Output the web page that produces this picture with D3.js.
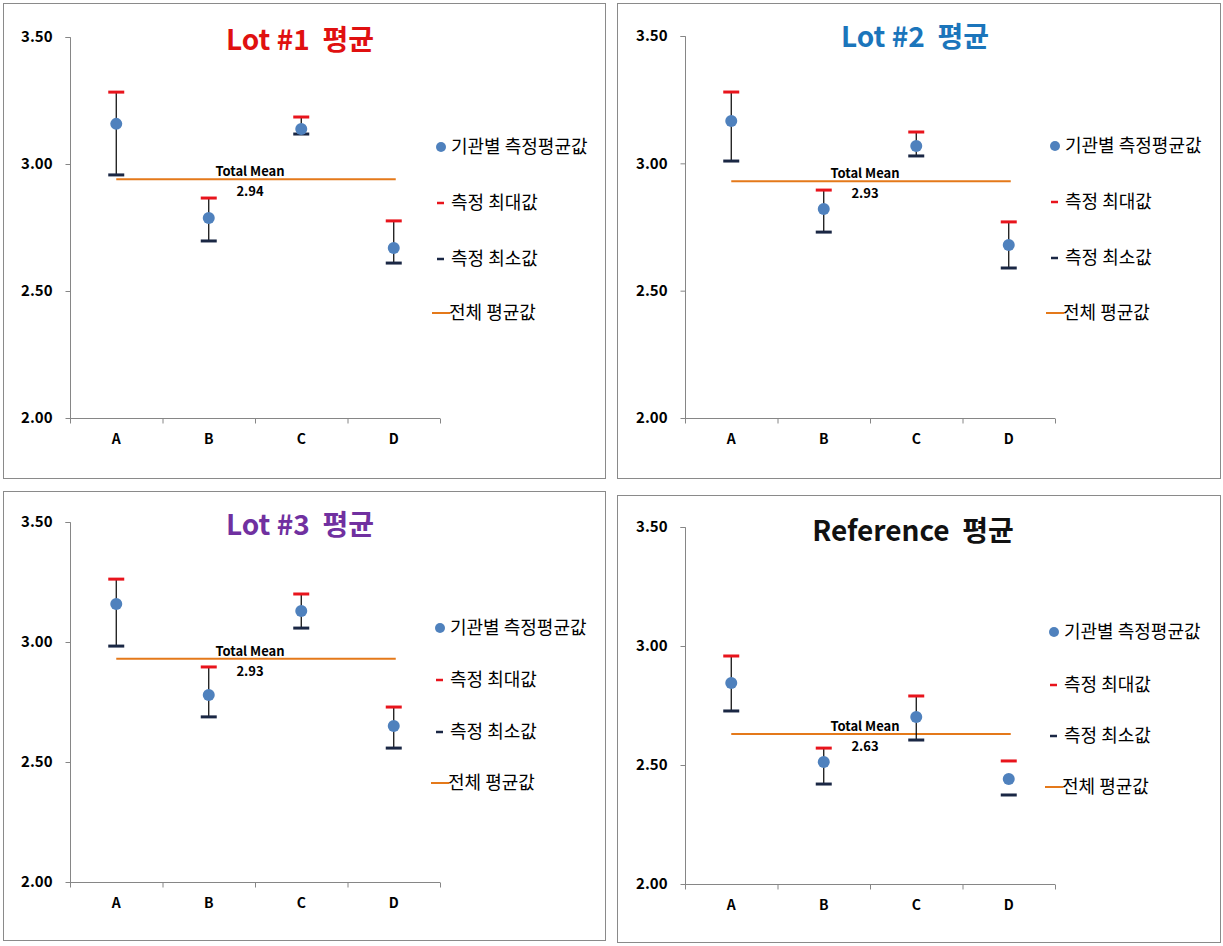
<!DOCTYPE html>
<html>
<head>
<meta charset="utf-8">
<script src="https://cdn.jsdelivr.net/npm/d3@7/dist/d3.min.js"></script>
<style>
  html, body { margin: 0; padding: 0; background: #fff; }
  svg { display: block; font-family: "Noto Sans CJK KR", "Noto Sans", sans-serif; }
</style>
</head>
<body>
<svg id="chart" width="1223" height="946"></svg>
<script>
// ---------- data ----------
const categories = ["A", "B", "C", "D"];
const yTicks = [2.0, 2.5, 3.0, 3.5];

const lot1Mean = [3.158, 2.787, 3.138, 2.669];
const lot1Max  = [3.283, 2.866, 3.185, 2.776];
const lot1Min  = [2.957, 2.697, 3.118, 2.610];
const lot1Total = 2.94;

const lot2Mean = [3.166, 2.821, 3.068, 2.679];
const lot2Max  = [3.280, 2.895, 3.123, 2.770];
const lot2Min  = [3.009, 2.730, 3.029, 2.589];
const lot2Total = 2.93;

const lot3Mean = [3.158, 2.779, 3.129, 2.650];
const lot3Max  = [3.262, 2.896, 3.200, 2.729];
const lot3Min  = [2.983, 2.688, 3.058, 2.558];
const lot3Total = 2.93;

const refMean = [2.845, 2.513, 2.702, 2.441];
const refMax  = [2.958, 2.571, 2.790, 2.517];
const refMin  = [2.727, 2.420, 2.605, 2.374];
const refTotal = 2.63;
const refWhisker = [true, true, true, false];

const titles = ["Lot #1  평균", "Lot #2  평균", "Lot #3  평균", "Reference  평균"];
const legendLabels = ["기관별 측정평균값", "측정 최대값", "측정 최소값", "전체 평균값"];
const totalLabel = "Total Mean";

// ---------- layout ----------
const panels = [
  { frame: [3, 3, 605, 478], x0: 70, x1: 440, yTop: 37, yBot: 418, titleX: 300, titleY: 50, titleColor: "#e01010",
    legX: 441, legY: [147, 203, 259, 313],
    mean: lot1Mean, max: lot1Max, min: lot1Min, total: lot1Total, whisker: [true, true, true, true], title: titles[0] },
  { frame: [617, 3, 1220, 478], x0: 685, x1: 1055, yTop: 36, yBot: 418, titleX: 915, titleY: 47, titleColor: "#1b75bb",
    legX: 1055, legY: [146, 202, 258, 313],
    mean: lot2Mean, max: lot2Max, min: lot2Min, total: lot2Total, whisker: [true, true, true, true], title: titles[1] },
  { frame: [3, 491, 605, 940], x0: 70, x1: 440, yTop: 522, yBot: 882, titleX: 300, titleY: 535, titleColor: "#7030a0",
    legX: 440, legY: [628, 680, 732, 783],
    mean: lot3Mean, max: lot3Max, min: lot3Min, total: lot3Total, whisker: [true, true, true, true], title: titles[2] },
  { frame: [617, 495, 1220, 942], x0: 685, x1: 1055, yTop: 527, yBot: 884, titleX: 913, titleY: 541, titleColor: "#111111",
    legX: 1054, legY: [632, 685, 736, 787],
    mean: refMean, max: refMax, min: refMin, total: refTotal, whisker: refWhisker, title: titles[3] }
];

const C = {
  dot: "#4f81bd", max: "#e8141c", min: "#1a2744", whisk: "#000000",
  total: "#e4791a", axis: "#868686", frame: "#8a8a8a"
};

const svg = d3.select("#chart");

panels.forEach(p => {
  const g = svg.append("g");
  const [fx0, fy0, fx1, fy1] = p.frame;
  g.append("rect").attr("x", fx0 + 0.5).attr("y", fy0 + 0.5)
    .attr("width", fx1 - fx0).attr("height", fy1 - fy0)
    .attr("fill", "#fff").attr("stroke", C.frame).attr("stroke-width", 1);

  const y = d3.scaleLinear().domain([2, 3.5]).range([p.yBot, p.yTop]);
  const x = d3.scaleBand().domain(categories).range([p.x0, p.x1]);
  const xb = d3.scaleLinear().domain([0, categories.length]).range([p.x0, p.x1]);
  const cx = c => x(c) + x.bandwidth() / 2;

  // y axis
  const ya = g.append("g").attr("transform", `translate(${p.x0 + 0.5},0)`)
    .call(d3.axisLeft(y).tickValues(yTicks).tickFormat(d3.format(".2f")).tickSize(5).tickPadding(13));
  ya.select(".domain").attr("stroke", C.axis).attr("d", `M-5,${p.yTop + 0.5}H0V${p.yBot + 0.5}`);
  ya.selectAll(".tick line").attr("stroke", C.axis);
  ya.selectAll(".tick text").attr("font-size", 15).attr("font-weight", "bold").attr("fill", "#000")
    .attr("font-family", "'Noto Sans CJK KR', sans-serif");

  // x axis (ticks between categories)
  const xa = g.append("g").attr("transform", `translate(0,${p.yBot + 0.5})`)
    .call(d3.axisBottom(xb).tickValues(d3.range(categories.length + 1)).tickSize(5).tickFormat(""));
  xa.select(".domain").attr("stroke", C.axis).attr("d", `M${p.x0},0H${p.x1}`);
  xa.selectAll(".tick line").attr("stroke", C.axis);

  g.selectAll("text.cat").data(categories).enter().append("text")
    .attr("class", "cat").attr("x", d => cx(d)).attr("y", p.yBot + 26)
    .attr("text-anchor", "middle").attr("font-size", 14).attr("font-weight", "bold").text(d => d);

  // total mean line
  const tl = cx(categories[0]), tr = cx(categories[categories.length - 1]);
  g.append("line").attr("x1", tl).attr("x2", tr + 2)
    .attr("y1", y(p.total)).attr("y2", y(p.total))
    .attr("stroke", C.total).attr("stroke-width", 2);
  const mid = (tl + tr) / 2 - 5;
  g.append("text").attr("x", mid).attr("y", y(p.total) - 3).attr("text-anchor", "middle")
    .attr("font-size", 13).attr("font-weight", 600).text(totalLabel);
  g.append("text").attr("x", mid).attr("y", y(p.total) + 17).attr("text-anchor", "middle")
    .attr("font-size", 13).attr("font-weight", 600).text(d3.format(".2f")(p.total));

  // whiskers
  categories.forEach((c, i) => {
    if (p.whisker[i]) {
      g.append("line").attr("x1", cx(c)).attr("x2", cx(c))
        .attr("y1", y(p.max[i])).attr("y2", y(p.min[i]))
        .attr("stroke", C.whisk).attr("stroke-width", 1.2);
    }
  });
  // max / min dashes
  g.selectAll("line.max").data(p.max).enter().append("line").attr("class", "max")
    .attr("x1", (d, i) => cx(categories[i]) - 8).attr("x2", (d, i) => cx(categories[i]) + 8)
    .attr("y1", d => y(d)).attr("y2", d => y(d))
    .attr("stroke", C.max).attr("stroke-width", 3);
  g.selectAll("line.min").data(p.min).enter().append("line").attr("class", "min")
    .attr("x1", (d, i) => cx(categories[i]) - 8).attr("x2", (d, i) => cx(categories[i]) + 8)
    .attr("y1", d => y(d)).attr("y2", d => y(d))
    .attr("stroke", C.min).attr("stroke-width", 3);
  // means
  g.selectAll("circle.mean").data(p.mean).enter().append("circle").attr("class", "mean")
    .attr("cx", (d, i) => cx(categories[i])).attr("cy", d => y(d)).attr("r", 6)
    .attr("fill", C.dot);

  // title
  g.append("text").attr("x", p.titleX).attr("y", p.titleY).attr("text-anchor", "middle")
    .attr("font-size", 28).attr("font-weight", "bold").attr("fill", p.titleColor)
    .attr("xml:space", "preserve").style("white-space", "pre").text(p.title);

  // legend
  const lx = p.legX, tx = lx + 10;
  g.append("circle").attr("cx", lx).attr("cy", p.legY[0]).attr("r", 5).attr("fill", C.dot);
  g.append("line").attr("x1", lx - 4).attr("x2", lx + 3).attr("y1", p.legY[1]).attr("y2", p.legY[1])
    .attr("stroke", C.max).attr("stroke-width", 2.5);
  g.append("line").attr("x1", lx - 4).attr("x2", lx + 3).attr("y1", p.legY[2]).attr("y2", p.legY[2])
    .attr("stroke", C.min).attr("stroke-width", 2.5);
  g.append("line").attr("x1", lx - 9).attr("x2", lx + 9).attr("y1", p.legY[3]).attr("y2", p.legY[3])
    .attr("stroke", C.total).attr("stroke-width", 2);
  legendLabels.forEach((t, i) => {
    g.append("text").attr("x", i === 3 ? lx + 8 : tx).attr("y", p.legY[i]).attr("dy", "0.36em")
      .attr("font-size", 18).attr("fill", "#000").text(t);
  });
});
</script>
</body>
</html>
